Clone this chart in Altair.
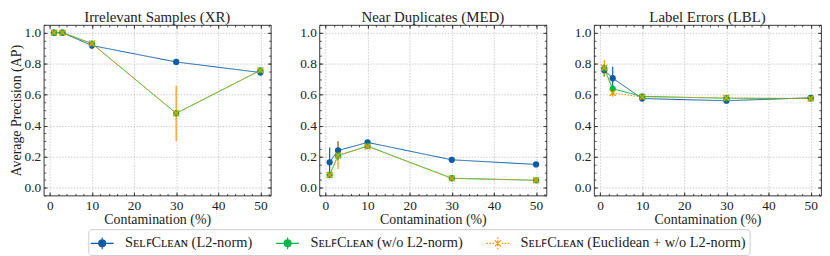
import altair as alt
import pandas as pd

contamination = [1, 3, 10, 30, 50]
panels = ["Irrelevant Samples (XR)", "Near Duplicates (MED)", "Label Errors (LBL)"]
series = [
    "S\u1d07\u029f\ua730C\u029f\u1d07\u1d00\u0274 (L2-norm)",
    "S\u1d07\u029f\ua730C\u029f\u1d07\u1d00\u0274 (w/o L2-norm)",
    "S\u1d07\u029f\ua730C\u029f\u1d07\u1d00\u0274 (Euclidean + w/o L2-norm)",
]
colors = ["#0C5DA5", "#00B945", "#FF9500"]

# Irrelevant Samples (XR)
xr_l2 = [1.0, 1.0, 0.917, 0.811, 0.743]
xr_l2_err = [0.003, 0.003, 0.02, 0.006, 0.01]
xr_nol2 = [1.0, 1.0, 0.930, 0.480, 0.757]
xr_nol2_err = [0.003, 0.003, 0.01, 0.01, 0.01]
xr_euc = [1.0, 1.0, 0.930, 0.480, 0.757]
xr_euc_err = [0.003, 0.003, 0.01, 0.178, 0.01]

# Near Duplicates (MED)
med_l2 = [0.164, 0.240, 0.292, 0.180, 0.150]
med_l2_err = [0.095, 0.06, 0.01, 0.012, 0.012]
med_nol2 = [0.082, 0.208, 0.268, 0.061, 0.048]
med_nol2_err = [0.01, 0.03, 0.01, 0.005, 0.005]
med_euc = [0.082, 0.208, 0.266, 0.060, 0.048]
med_euc_err = [0.01, 0.088, 0.01, 0.005, 0.005]

# Label Errors (LBL)
lbl_l2 = [0.758, 0.706, 0.575, 0.561, 0.580]
lbl_l2_err = [0.04, 0.075, 0.01, 0.01, 0.01]
lbl_nol2 = [0.770, 0.638, 0.589, 0.577, 0.575]
lbl_nol2_err = [0.02, 0.02, 0.01, 0.005, 0.005]
lbl_euc = [0.774, 0.612, 0.585, 0.580, 0.575]
lbl_euc_err = [0.05, 0.025, 0.005, 0.005, 0.005]

values = [
    [(xr_l2, xr_l2_err), (xr_nol2, xr_nol2_err), (xr_euc, xr_euc_err)],
    [(med_l2, med_l2_err), (med_nol2, med_nol2_err), (med_euc, med_euc_err)],
    [(lbl_l2, lbl_l2_err), (lbl_nol2, lbl_nol2_err), (lbl_euc, lbl_euc_err)],
]

rows = []
for p, pname in enumerate(panels):
    for s, sname in enumerate(series):
        ys, es = values[p][s]
        for xv, yv, ev in zip(contamination, ys, es):
            rows.append({"panel": pname, "series": sname, "x": xv, "y": yv,
                         "lo": yv - ev, "hi": yv + ev})
df = pd.DataFrame(rows)

FONT = "Liberation Serif"
xs = alt.Scale(domain=[-1.45, 52.45], nice=False, zero=False)
ysc = alt.Scale(domain=[-0.05, 1.05], nice=False, zero=False)
# color / dash scales carry one unused extra entry so that their (hidden) legends
# are not merged with the visible legend below
cs = alt.Scale(domain=series + ["_"], range=colors + ["#000000"])
dash = alt.Scale(domain=series + ["__"], range=[[1, 0], [1, 0], [1.5, 1.5], [1, 0]])

x_major = [0, 10, 20, 30, 40, 50]
x_minor = list(range(0, 53, 2))
y_major = [0.0, 0.2, 0.4, 0.6, 0.8, 1.0]
y_minor = [round(0.05 * i, 2) for i in range(-1, 22)]


def tick_axis(orient, vals, size):
    return alt.Axis(orient=orient, values=vals, labels=False, grid=False, domain=False,
                    ticks=True, tickSize=size, offset=-size, tickColor="#222222",
                    tickWidth=0.8, title=None)


circle_line = ("M-1.15,0H1.15M0,-0.6V0.6"
               "M-0.35,0A0.35,0.35 0 1 0 0.35,0A0.35,0.35 0 1 0 -0.35,0Z")
dotted_star = ("M-1.15,0H-1.0M-0.85,0H-0.7M-0.55,0H-0.4M0.4,0H0.55M0.7,0H0.85M1.0,0H1.15"
               "M0,-0.6V-0.45M0,-0.3V0.3M0,0.45V0.6"
               "M-0.3,-0.3L0.3,0.3M-0.3,0.3L0.3,-0.3")
legend_paths = [circle_line, circle_line, dotted_star]


def make_panel(p, first):
    pname = panels[p]
    base = alt.Chart(df).transform_filter(alt.datum.panel == pname)
    main_x = alt.Axis(orient="bottom", values=x_major, format="d", grid=True, ticks=False,
                      domain=False, labelPadding=3, title="Contamination (%)",
                      gridDash=[1.5, 1.5], gridColor="#aaaaaa", gridWidth=0.6)
    main_y = alt.Axis(orient="left", values=y_major, format=".1f", grid=True, ticks=False,
                      domain=False, labelPadding=3,
                      title="Average Precision (AP)" if first else None,
                      gridDash=[1.5, 1.5], gridColor="#aaaaaa", gridWidth=0.6)
    err = base.mark_rule(strokeWidth=1.2).encode(
        x=alt.X("x:Q", scale=xs, axis=main_x),
        y=alt.Y("lo:Q", scale=ysc, axis=main_y),
        y2="hi:Q",
        color=alt.Color("series:N", scale=cs, legend=None),
    )
    line = base.mark_line(strokeWidth=1.0).encode(
        x=alt.X("x:Q", scale=xs, axis=tick_axis("bottom", x_major, 3.5)),
        y=alt.Y("y:Q", scale=ysc, axis=tick_axis("left", y_major, 3.5)),
        color=alt.Color("series:N", scale=cs, legend=None),
        strokeDash=alt.StrokeDash("series:N", scale=dash, legend=None),
        order="x:Q",
    )
    circ = base.transform_filter(alt.datum.series != series[2]).mark_point(
        filled=True, size=40, opacity=1).encode(
        x=alt.X("x:Q", scale=xs, axis=tick_axis("bottom", x_minor, 2)),
        y=alt.Y("y:Q", scale=ysc, axis=tick_axis("left", y_minor, 2)),
        color=alt.Color("series:N", scale=cs, legend=None),
    )
    crosses = base.transform_filter(alt.datum.series == series[2]).mark_point(
        shape="M-1,-1L1,1M1,-1L-1,1", filled=False, size=36, strokeWidth=1.3,
        opacity=1).encode(
        x=alt.X("x:Q", scale=xs, axis=tick_axis("top", x_major, 3.5)),
        y=alt.Y("y:Q", scale=ysc, axis=tick_axis("right", y_major, 3.5)),
        color=alt.Color("series:N", scale=cs, legend=None),
    )
    dummy = base.mark_rule(opacity=0).encode(
        x=alt.X("x:Q", scale=xs, axis=tick_axis("top", x_minor, 2)),
        y=alt.Y("y:Q", scale=ysc, axis=tick_axis("right", y_minor, 2)),
    )
    layers = [err, line, circ, crosses, dummy]
    if first:
        leg = dict(orient="none", legendX=45, legendY=206, direction="horizontal",
                   columns=3, title=None, symbolSize=400, symbolStrokeWidth=1.2,
                   labelFont=FONT, labelFontSize=14.5, labelColor="#222222",
                   labelLimit=500, strokeColor="#cccccc", fillColor="white", padding=3,
                   cornerRadius=3, columnPadding=21, labelOffset=12, symbolOpacity=1)
        legend_layer = base.mark_point(filled=True, size=400, opacity=0).encode(
            x=alt.X("x:Q", scale=xs, axis=None),
            y=alt.Y("y:Q", scale=ysc, axis=None),
            fill=alt.Fill("series:N", scale=alt.Scale(domain=series, range=colors),
                          legend=alt.Legend(**leg)),
            stroke=alt.Stroke("series:N", scale=alt.Scale(domain=series, range=colors),
                              legend=alt.Legend(**leg)),
            shape=alt.Shape("series:N", scale=alt.Scale(domain=series, range=legend_paths),
                            legend=alt.Legend(**leg)),
        )
        layers.append(legend_layer)
    return alt.layer(*layers).resolve_axis(x="independent", y="independent").properties(
        width=229, height=172,
        title=alt.TitleParams(pname, fontSize=15, font=FONT, fontWeight="normal", offset=0),
    )


title_style = {"font": FONT, "fontSize": 15, "fontWeight": "normal", "color": "#222222"}

chart = alt.hconcat(make_panel(0, True), make_panel(1, False), make_panel(2, False),
                    spacing=26).configure(
    padding={"left": 0, "top": 0, "right": 0, "bottom": 0},
    style={"group-title": title_style},
).configure_view(
    stroke="#222222", strokeWidth=0.9
).configure_axis(
    labelFont=FONT, titleFont=FONT, labelFontSize=13.5, titleFontSize=14,
    titleFontWeight="normal", labelColor="#222222", titleColor="#222222",
    titlePadding=1,
).configure_title(font=FONT, fontSize=15, fontWeight="normal", color="#222222")

chart.save("out.html", embed_options={"renderer": "svg", "actions": False})
